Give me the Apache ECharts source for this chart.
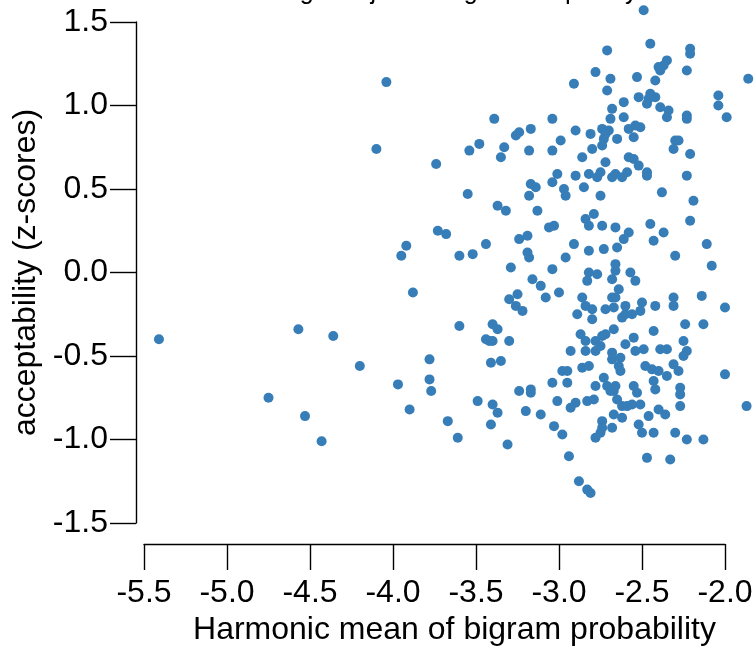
<!DOCTYPE html>
<html>
<head>
<meta charset="utf-8">
<script src="https://cdn.jsdelivr.net/npm/echarts@6/dist/echarts.min.js"></script>
<style>
html,body{margin:0;padding:0;background:#fff;}
#chart{width:756px;height:647px;}
</style>
</head>
<body>
<div id="chart"></div>
<script>
// Harmonic mean of bigram probability (x) vs acceptability z-score (y)
const sparseLeft = [
  [-4.04,1.14],[-4.10,0.74],[-3.74,0.65],[-3.73,0.25],[-3.68,0.23],[-3.92,0.16],
  [-3.95,0.10],[-3.60,0.10],[-3.88,-0.12],[-3.60,-0.32],[-5.41,-0.40],[-4.57,-0.34],
  [-4.36,-0.38],[-4.20,-0.56],[-3.78,-0.52],[-3.78,-0.64],[-3.77,-0.71],[-3.97,-0.67],
  [-4.75,-0.75],[-3.90,-0.82],[-4.53,-0.86],[-3.67,-0.89],[-4.43,-1.01],[-3.61,-0.99]
];
const upperCluster = [
  [-2.49,1.57],
  [-2.45,1.37],[-2.21,1.34],[-2.21,1.31],[-2.71,1.33],[-2.35,1.27],[-2.37,1.24],
  [-2.40,1.23],[-2.39,1.21],[-2.78,1.20],[-2.23,1.21],[-1.86,1.16],[-2.69,1.16],
  [-2.53,1.17],[-2.42,1.15],[-2.91,1.13],[-2.71,1.09],[-2.04,1.06],[-2.04,1.00],
  [-1.99,0.93],[-2.52,1.05],[-2.45,1.07],[-2.42,1.05],[-2.46,1.04],[-2.47,1.01],
  [-2.61,1.02],[-2.39,0.99],[-2.34,0.97],[-2.35,0.93],[-2.68,0.98],[-2.23,0.94],
  [-2.23,0.92],[-2.61,0.93],[-2.69,0.92],[-3.39,0.92],[-3.04,0.92],[-3.17,0.86],
  [-3.24,0.84],[-3.26,0.82],[-3.48,0.77],[-3.54,0.73],[-3.33,0.75],[-3.35,0.69],
  [-3.18,0.73],[-3.04,0.73],[-2.99,0.79],[-2.90,0.85],[-2.81,0.83],[-2.74,0.86],
  [-2.70,0.85],[-2.72,0.83],[-2.73,0.80],[-2.74,0.76],[-2.65,0.80],[-2.58,0.86],
  [-2.54,0.88],[-2.51,0.87],[-2.55,0.81],[-2.80,0.74],[-2.86,0.69],[-2.72,0.66],
  [-2.58,0.69],[-2.55,0.68],[-2.52,0.64],[-2.47,0.60],[-2.47,0.58],[-2.30,0.79],
  [-2.28,0.79],[-2.31,0.74],[-2.21,0.71],[-2.23,0.58],[-3.01,0.59],[-3.04,0.54],
  [-2.90,0.58],[-2.82,0.59],[-2.75,0.60],[-2.77,0.57],[-2.68,0.57],[-2.66,0.59],
  [-2.62,0.57],[-2.59,0.60],[-2.85,0.51],[-2.97,0.50],[-2.96,0.46],[-2.75,0.46],
  [-3.17,0.53],[-3.14,0.51],[-3.18,0.46],[-3.55,0.47],[-3.37,0.40],[-3.32,0.37],
  [-3.13,0.37],[-2.38,0.48],[-2.19,0.43],[-2.21,0.31],[-2.45,0.29],[-2.37,0.24],
  [-2.43,0.19],[-2.79,0.35],[-2.84,0.32],[-2.82,0.28],[-2.74,0.28],[-2.66,0.27],
  [-2.58,0.24],[-2.61,0.20],[-2.65,0.15],[-2.73,0.14],[-2.82,0.13],[-2.91,0.17],
  [-2.96,0.09],[-3.06,0.27],[-3.03,0.28],[-3.24,0.20],[-3.19,0.22],[-3.44,0.17],
  [-3.52,0.11],[-3.19,0.12],[-3.18,0.09],[-3.29,0.03],[-3.04,0.02],[-2.30,0.10],
  [-2.11,0.17],[-2.08,0.04],[-2.66,0.05],[-2.66,0.01],[-2.82,0.00],[-2.77,-0.01],
  [-2.57,0.00],[-3.16,-0.04]
];
const lowerCluster = [
  [-2.54,-0.05],[-2.68,-0.04],[-2.83,-0.05],[-3.11,-0.08],[-3.08,-0.15],[-3.00,-0.12],
  [-2.64,-0.10],[-2.86,-0.15],[-2.84,-0.20],[-2.80,-0.22],[-2.80,-0.28],[-2.89,-0.25],
  [-2.72,-0.22],[-2.67,-0.21],[-2.68,-0.15],[-2.66,-0.15],[-2.60,-0.20],[-2.62,-0.27],
  [-2.60,-0.25],[-2.56,-0.25],[-2.51,-0.23],[-2.50,-0.18],[-2.42,-0.20],[-2.31,-0.15],
  [-2.31,-0.20],[-2.14,-0.14],[-2.00,-0.21],[-2.24,-0.31],[-2.13,-0.31],[-2.43,-0.35],
  [-2.25,-0.41],[-2.23,-0.47],[-2.25,-0.50],[-2.00,-0.61],[-1.87,-0.80],[-3.25,-0.13],
  [-3.30,-0.16],[-3.26,-0.20],[-3.22,-0.23],[-3.40,-0.31],[-3.37,-0.34],[-3.44,-0.40],
  [-3.42,-0.41],[-3.40,-0.41],[-3.30,-0.41],[-3.41,-0.54],[-3.35,-0.53],[-2.87,-0.37],
  [-2.84,-0.41],[-2.93,-0.47],[-2.84,-0.47],[-2.78,-0.47],[-2.78,-0.41],[-2.75,-0.44],
  [-2.74,-0.38],[-2.72,-0.37],[-2.67,-0.34],[-2.55,-0.39],[-2.60,-0.43],[-2.54,-0.47],
  [-2.49,-0.46],[-2.39,-0.46],[-2.35,-0.46],[-2.68,-0.48],[-2.68,-0.52],[-2.63,-0.51],
  [-2.64,-0.56],[-2.63,-0.59],[-2.86,-0.57],[-2.82,-0.56],[-2.98,-0.59],[-2.95,-0.59],
  [-2.48,-0.56],[-2.44,-0.58],[-2.40,-0.59],[-2.35,-0.62],[-2.31,-0.55],[-2.28,-0.59],
  [-2.73,-0.63],[-2.78,-0.68],[-2.71,-0.68],[-2.69,-0.71],[-2.66,-0.68],[-2.67,-0.71],
  [-2.55,-0.68],[-2.53,-0.72],[-2.43,-0.65],[-2.42,-0.70],[-2.27,-0.69],[-2.27,-0.73],
  [-2.27,-0.80],[-3.04,-0.66],[-2.95,-0.66],[-3.24,-0.71],[-3.17,-0.70],[-3.17,-0.72],
  [-3.01,-0.77],[-2.90,-0.78],[-2.93,-0.81],[-2.83,-0.77],[-2.79,-0.76],[-2.65,-0.76],
  [-2.62,-0.80],[-2.59,-0.80],[-2.56,-0.79],[-2.51,-0.79],[-2.67,-0.85],[-2.62,-0.87],
  [-2.46,-0.86],[-2.40,-0.82],[-2.36,-0.85],[-2.74,-0.89],[-2.74,-0.93],[-2.68,-0.93],
  [-2.75,-0.96],[-2.78,-0.99],[-2.52,-0.91],[-2.50,-0.96],[-2.43,-0.96],[-2.30,-0.96],
  [-2.23,-1.00],[-2.13,-1.00],[-2.47,-1.11],[-2.33,-1.12],[-2.94,-1.10],[-2.88,-1.25],
  [-2.83,-1.30],[-2.81,-1.32],[-3.49,-0.77],[-3.40,-0.79],[-3.37,-0.84],[-3.20,-0.83],
  [-3.11,-0.85],[-3.41,-0.91],[-3.31,-1.03],[-3.03,-0.92],[-2.98,-0.97]
];
const xTickLabels = ['-5.5','-5.0','-4.5','-4.0','-3.5','-3.0','-2.5','-2.0'];
const yTickLabels = ['-1.5','-1.0','-0.5','0.0','0.5','1.0','1.5'];
const titleText = 'Length-adjusted bigram frequency';
const xName = 'Harmonic mean of bigram probability';
const yName = 'acceptability (z-scores)';

const FONT = 'Liberation Sans, Arial, Helvetica, sans-serif';
const FS = 32;
const allPoints = sparseLeft.concat(upperCluster, lowerCluster);
const tickText = (list) => (v) => { const s = v.toFixed(1); return list.indexOf(s) >= 0 ? s : ''; };

const chart = echarts.init(document.getElementById('chart'), null, {renderer: 'canvas'});
chart.setOption({
  animation: false,
  backgroundColor: '#fff',
  textStyle: {fontFamily: FONT},
  title: {
    text: titleText, left: 258, top: -20, padding: 0,
    textStyle: {fontSize: 25, fontWeight: 'normal', color: '#000', fontFamily: FONT}
  },
  grid: {left: 144, right: 31, top: 22, bottom: 124, containLabel: false, outerBoundsMode: 'none'},
  xAxis: {
    type: 'value', min: -5.5, max: -2, interval: 0.5, offset: 21,
    axisLine: {show: true, onZero: false, lineStyle: {color: '#000', width: 1.4}},
    axisTick: {show: true, length: 26, lineStyle: {color: '#000', width: 1.4}},
    axisLabel: {margin: 33, fontSize: FS, color: '#000', fontFamily: FONT, showMinLabel: true, showMaxLabel: true, formatter: tickText(xTickLabels)},
    splitLine: {show: false},
    name: xName, nameLocation: 'middle', nameGap: 67,
    nameTextStyle: {fontSize: FS, color: '#000', fontFamily: FONT, padding: [0, 0, 0, 40]}
  },
  yAxis: {
    type: 'value', min: -1.5, max: 1.5, interval: 0.5, offset: 8,
    axisLine: {show: true, onZero: false, lineStyle: {color: '#000', width: 1.4}},
    axisTick: {show: true, length: 26, lineStyle: {color: '#000', width: 1.4}},
    axisLabel: {margin: 28, fontSize: FS, color: '#000', fontFamily: FONT, showMinLabel: true, showMaxLabel: true, formatter: tickText(yTickLabels)},
    splitLine: {show: false},
    name: yName, nameLocation: 'middle', nameGap: 88, nameRotate: 90,
    nameTextStyle: {fontSize: FS, color: '#000', fontFamily: FONT}
  },
  series: [{
    type: 'scatter', data: allPoints, symbolSize: 10, clip: false, silent: true,
    itemStyle: {color: '#377eb8', opacity: 1}
  }]
});
</script>
</body>
</html>
